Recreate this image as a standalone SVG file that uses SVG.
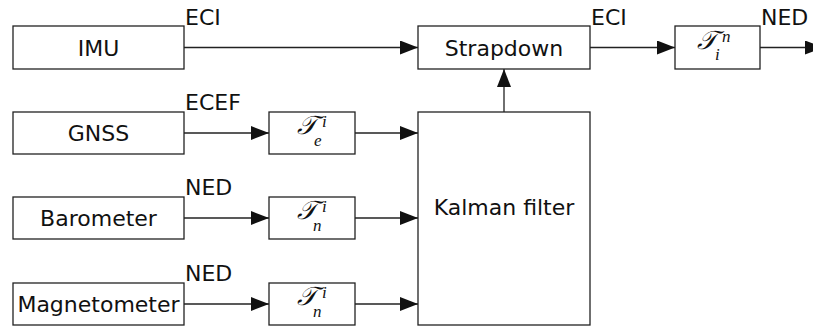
<svg xmlns="http://www.w3.org/2000/svg" width="813" height="327" viewBox="0 0 813 327">
<defs>
<marker id="ah" markerUnits="userSpaceOnUse" markerWidth="18" markerHeight="14" refX="18" refY="7" orient="auto">
<path d="M0,0 L18,7 L0,14 Z" fill="#111"/>
</marker>
<style>
.box{fill:#fff;stroke:#222;stroke-width:1.3}
.t{font-family:"DejaVu Sans",sans-serif;font-size:22px;fill:#111}
.lbl{font-family:"DejaVu Sans",sans-serif;font-size:22px;fill:#111}
.m{font-family:"DejaVu Serif","Liberation Serif",serif;font-style:italic;font-size:26px;fill:#111}
.s{font-family:"Liberation Serif","DejaVu Serif",serif;font-style:italic;font-size:17px;fill:#111}
.c{fill:none;stroke:#222;stroke-width:1.3;marker-end:url(#ah)}
</style>
</defs>
<rect width="813" height="327" fill="#fff"/>
<g id="connectors">
<line class="c" x1="184" y1="47.5" x2="418" y2="47.5"/>
<line class="c" x1="590" y1="47.5" x2="675" y2="47.5"/>
<line class="c" x1="760" y1="47.5" x2="823" y2="47.5"/>
<line class="c" x1="504" y1="112" x2="504" y2="69"/>
<line class="c" x1="184" y1="133" x2="269" y2="133"/>
<line class="c" x1="355" y1="133" x2="418" y2="133"/>
<line class="c" x1="184" y1="218" x2="269" y2="218"/>
<line class="c" x1="355" y1="218" x2="418" y2="218"/>
<line class="c" x1="184" y1="304" x2="269" y2="304"/>
<line class="c" x1="355" y1="304" x2="418" y2="304"/>
</g>
<g id="labels">
<text class="lbl" x="185" y="25">ECI</text>
<text class="lbl" x="591" y="25">ECI</text>
<text class="lbl" x="761" y="25">NED</text>
<text class="lbl" x="185" y="110">ECEF</text>
<text class="lbl" x="185" y="195">NED</text>
<text class="lbl" x="185" y="281">NED</text>
</g>
<g id="imu"><rect class="box" x="13" y="26" width="171" height="43"/><text class="t" x="98.5" y="55.5" text-anchor="middle">IMU</text></g>
<g id="strapdown"><rect class="box" x="418" y="26" width="172" height="43"/><text class="t" x="504" y="55.5" text-anchor="middle">Strapdown</text></g>
<g id="tin"><rect class="box" x="675" y="26" width="85" height="43"/><text class="m" x="697" y="49">𝒯</text><text class="s" x="722" y="42">n</text><text class="s" x="715" y="60">i</text></g>
<g id="gnss"><rect class="box" x="13" y="112" width="171" height="42"/><text class="t" x="98.5" y="141" text-anchor="middle">GNSS</text></g>
<g id="tei"><rect class="box" x="269" y="112" width="86" height="42"/><text class="m" x="297" y="134">𝒯</text><text class="s" x="322" y="127">i</text><text class="s" x="314" y="146">e</text></g>
<g id="barometer"><rect class="box" x="13" y="197" width="171" height="42"/><text class="t" x="98.5" y="226" text-anchor="middle">Barometer</text></g>
<g id="tni1"><rect class="box" x="269" y="197" width="86" height="42"/><text class="m" x="297" y="219">𝒯</text><text class="s" x="322" y="212">i</text><text class="s" x="313" y="231">n</text></g>
<g id="magnetometer"><rect class="box" x="13" y="283" width="171" height="42"/><text class="t" x="98.5" y="312" text-anchor="middle">Magnetometer</text></g>
<g id="tni2"><rect class="box" x="269" y="283" width="86" height="42"/><text class="m" x="297" y="305">𝒯</text><text class="s" x="322" y="298">i</text><text class="s" x="313" y="317">n</text></g>
<g id="kalman"><rect class="box" x="418" y="112" width="172" height="213"/><text class="t" x="504" y="215" text-anchor="middle">Kalman filter</text></g>
</svg>
